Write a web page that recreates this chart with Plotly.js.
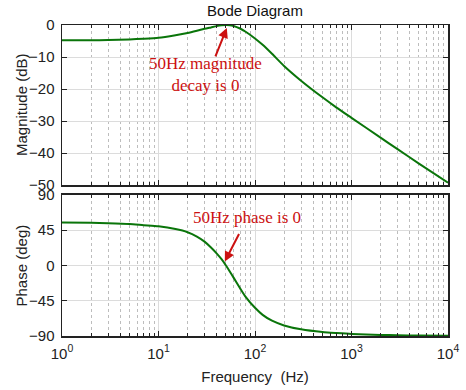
<!DOCTYPE html>
<html>
<head>
<meta charset="utf-8">
<script src="https://cdn.plot.ly/plotly-3.0.1.min.js"></script>
<style>html,body{margin:0;padding:0;background:#fff;}</style>
</head>
<body>
<div id="chart" style="width:466px;height:390px;"></div>
<script>
// Frequency samples (Hz)
const freq = [1, 2, 3, 5, 7, 10, 15, 20, 25, 30, 35, 40, 45, 50, 55, 60, 70, 80, 100, 120, 150, 200, 300, 500, 700, 1000, 2000, 3000, 5000, 10000];
// Magnitude (dB)
const magnitude = [-4.8, -4.75, -4.7, -4.5, -4.3, -4.0, -3.2, -2.5, -1.8, -1.2, -0.75, -0.35, -0.1, 0, -0.05, -0.3, -1.1, -2.1, -4.2, -6.2, -9.0, -12.8, -17.4, -22.6, -25.8, -29.0, -35.2, -38.8, -43.3, -49.3];
// Phase (deg)
const phase = [55, 54.5, 54, 53, 51.5, 50, 46.5, 42.5, 37, 30.5, 23, 15.5, 8, 0, -8, -15.5, -29, -40, -54, -63, -70.5, -76.5, -81.5, -85, -86.3, -87.5, -88.7, -89, -89.4, -89.7];

const decadeTicks = [1, 10, 100, 1000, 10000];
const decadeLabels = ['10<sup>0</sup>', '10<sup>1</sup>', '10<sup>2</sup>', '10<sup>3</sup>', '10<sup>4</sup>'];
const minorTicks = [];
[1, 10, 100, 1000].forEach(d => { for (let k = 2; k <= 9; k++) minorTicks.push(d * k); });
const magTicks = [-50, -40, -30, -20, -10, 0];
const phaseTicks = [-90, -45, 0, 45, 90];

const lineColor = '#0a750a';
const red = '#cc1111';
const sans = 'Liberation Sans, Arial, sans-serif';
const serif = 'Liberation Serif, Times New Roman, serif';

const traces = [
  {x: freq, y: magnitude, xaxis: 'x', yaxis: 'y', mode: 'lines', line: {color: lineColor, width: 2, shape: 'spline', smoothing: 0.6}, hoverinfo: 'skip'},
  {x: freq, y: phase, xaxis: 'x2', yaxis: 'y2', mode: 'lines', line: {color: lineColor, width: 2, shape: 'spline', smoothing: 0.6}, hoverinfo: 'skip'}
];

function xax(showLabels, anchor) {
  return {
    type: 'log', range: [0, 4], anchor: anchor,
    tickmode: 'array', tickvals: decadeTicks, ticktext: decadeLabels,
    showticklabels: showLabels,
    ticks: 'inside', ticklen: 5, tickcolor: '#222', tickwidth: 1,
    showline: true, linecolor: '#222', linewidth: 1.5, mirror: 'ticks',
    showgrid: true, gridcolor: '#dcdcdc', gridwidth: 1,
    zeroline: false,
    ticklabelstandoff: 3,
    tickfont: {family: sans, size: 15, color: '#222'},
    minor: {tickmode: 'array', tickvals: minorTicks, ticks: 'inside', ticklen: 3, tickcolor: '#222',
            showgrid: true, gridcolor: '#bdbdbd', griddash: 'dot', gridwidth: 1}
  };
}
function yax(domain, range, ticks, anchor) {
  return {
    domain: domain, range: range, anchor: anchor,
    tickmode: 'array', tickvals: ticks,
    ticks: 'inside', ticklen: 5, tickcolor: '#222',
    showline: true, linecolor: '#222', linewidth: 1.5, mirror: 'ticks',
    showgrid: true, gridcolor: '#dcdcdc', zeroline: false,
    tickfont: {family: sans, size: 15, color: '#222'},
    ticklabelstandoff: 3
  };
}

const xa2 = xax(true, 'y2');
xa2.matches = 'x';
xa2.title = {text: 'Frequency\u00a0\u00a0(Hz)', font: {family: sans, size: 15, color: '#222'}, standoff: 11};

const yTitleX = (21 - 62) / 386;
const layout = {
  width: 466, height: 390,
  margin: {l: 62, r: 18, t: 25, b: 54},
  paper_bgcolor: '#fff', plot_bgcolor: '#fff',
  showlegend: false,
  title: {text: 'Bode Diagram', font: {family: sans, size: 15, color: '#111'}, x: 0.5, xref: 'paper', xanchor: 'center', y: 0.973, yref: 'container', yanchor: 'middle'},
  xaxis: xax(false, 'y'),
  xaxis2: xa2,
  yaxis: yax([0.4855, 1], [-50, 0], magTicks, 'x'),
  yaxis2: yax([0, 0.4534], [-90, 90], phaseTicks, 'x2'),
  annotations: [
    {xref: 'paper', yref: 'paper', x: yTitleX, y: (1 + 0.4855) / 2, text: 'Magnitude (dB)', textangle: -90, showarrow: false,
     xanchor: 'center', yanchor: 'middle', font: {family: sans, size: 15, color: '#222'}},
    {xref: 'paper', yref: 'paper', x: yTitleX, y: 0.4534 / 2, text: 'Phase (deg)', textangle: -90, showarrow: false,
     xanchor: 'center', yanchor: 'middle', font: {family: sans, size: 15, color: '#222'}},
    {xref: 'x', yref: 'y', x: 1.491, y: -15.6, text: '50Hz magnitude<br>decay is 0', showarrow: false,
     font: {family: serif, size: 17, color: red}, align: 'center'},
    {xref: 'x', yref: 'y', x: 1.708, y: -0.9, text: '', showarrow: true, ax: -12, ay: 30,
     arrowhead: 2, arrowsize: 1, arrowwidth: 2, arrowcolor: red},
    {xref: 'x2', yref: 'y2', x: 1.912, y: 61.3, text: '50Hz phase is 0', showarrow: false,
     font: {family: serif, size: 17, color: red}},
    {xref: 'x2', yref: 'y2', x: 1.687, y: 5, text: '', showarrow: true, ax: 15, ay: -29,
     arrowhead: 2, arrowsize: 1, arrowwidth: 2, arrowcolor: red}
  ]
};

Plotly.newPlot('chart', traces, layout, {displayModeBar: false, staticPlot: true});
</script>
</body>
</html>
